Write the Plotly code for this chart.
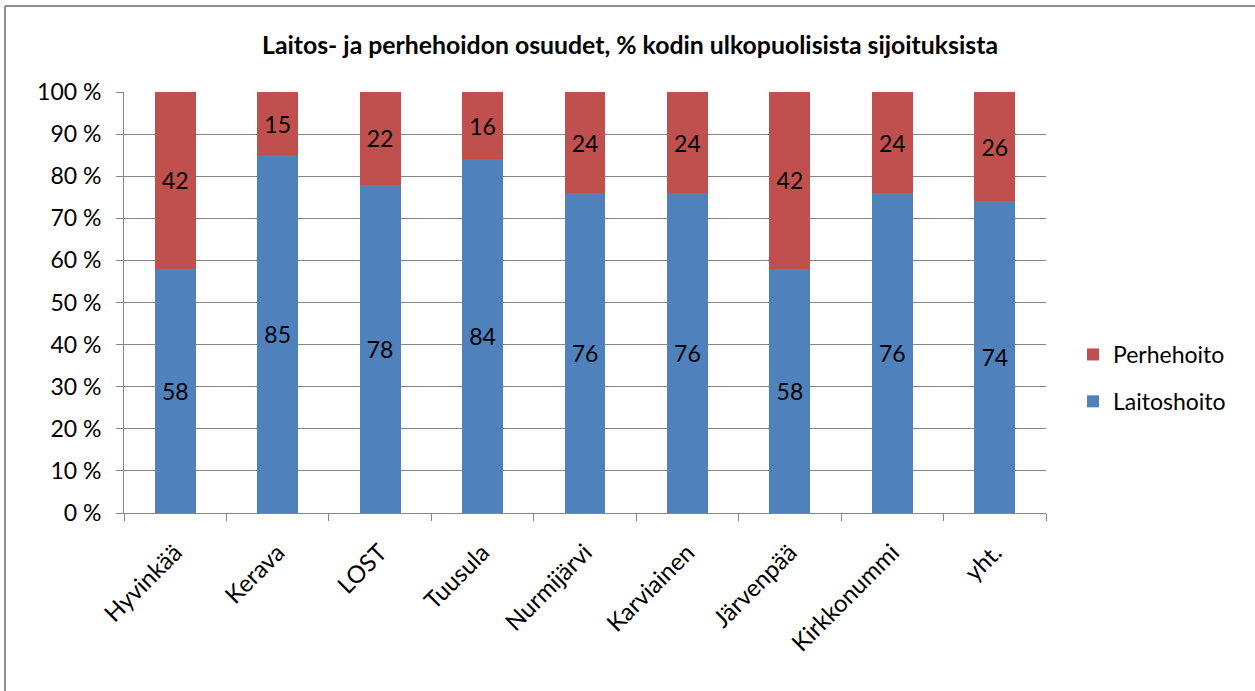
import plotly.graph_objects as go

categories = ["Hyvinkää", "Kerava", "LOST", "Tuusula", "Nurmijärvi", "Karviainen", "Järvenpää", "Kirkkonummi", "yht."]
laitoshoito = [58, 85, 78, 84, 76, 76, 58, 76, 74]
perhehoito = [42, 15, 22, 16, 24, 24, 42, 24, 26]
y_ticks = [0, 10, 20, 30, 40, 50, 60, 70, 80, 90, 100]
y_tick_labels = [f"{v} %" for v in y_ticks]

FONT = "Lato, 'Open Sans', sans-serif"
W, H = 1255, 691
L, R, T, B = 124, 1046, 92, 513
FS = 23

fig = go.Figure()
fig.add_trace(go.Bar(
    x=categories, y=laitoshoito, name="Laitoshoito",
    marker=dict(color="#4F81BD", line=dict(width=0)),
    text=laitoshoito, texttemplate="%{text}", textposition="inside",
    insidetextanchor="middle", textfont=dict(color="black", size=FS, family=FONT),
    legendgroup="a", legendrank=2,
))
fig.add_trace(go.Bar(
    x=categories, y=perhehoito, name="Perhehoito",
    marker=dict(color="#C0504D", line=dict(width=0)),
    text=perhehoito, texttemplate="%{text}", textposition="inside",
    insidetextanchor="middle", textfont=dict(color="black", size=FS, family=FONT),
    legendgroup="b", legendrank=1,
))

pw = R - L
ph = B - T
def px_x(p):
    return (p - L) / pw
def px_y(p):
    return (B - p) / ph

fig.update_layout(
    width=W, height=H,
    margin=dict(l=L, r=W - R, t=T, b=H - B, autoexpand=False),
    barmode="stack", bargap=0.6,
    paper_bgcolor="white", plot_bgcolor="white",
    font=dict(family=FONT, size=FS, color="black"),
    title=dict(text="<b>Laitos- ja perhehoidon osuudet, % kodin ulkopuolisista sijoituksista</b>",
               x=0.502, xanchor="center", y=1 - 45 / H, yanchor="middle",
               font=dict(size=24.8, family=FONT, color="black")),
    showlegend=True,
    legend=dict(x=px_x(1073), xanchor="left", y=px_y(378), yanchor="middle",
                traceorder="grouped", tracegroupgap=14,
                font=dict(size=FS, family=FONT), bgcolor="rgba(0,0,0,0)",
                itemwidth=30),
    xaxis=dict(showline=True, linecolor="#868686", linewidth=1,
               ticks="outside", ticklen=7, tickcolor="#868686", tickson="boundaries",
               tickangle=-45, tickfont=dict(size=24, family=FONT),
               ticklabelstandoff=15,
               showgrid=False, range=[-0.5, 8.5]),
    yaxis=dict(range=[0, 100], tickvals=y_ticks, ticktext=y_tick_labels,
               showline=True, linecolor="#868686", linewidth=1,
               ticks="outside", ticklen=7, tickcolor="#868686",
               ticklabelstandoff=10,
               showgrid=True, gridcolor="#868686", gridwidth=1,
               tickfont=dict(size=FS, family=FONT), zeroline=False),
    shapes=[
        dict(type="line", xref="paper", yref="paper", x0=px_x(5), x1=px_x(1300), y0=px_y(6), y1=px_y(6),
             line=dict(color="#8c8c8c", width=2)),
        dict(type="line", xref="paper", yref="paper", x0=px_x(5), x1=px_x(5), y0=px_y(6), y1=px_y(720),
             line=dict(color="#8c8c8c", width=2)),
    ],
)

fig.write_html("out.html", config={"displayModeBar": False},
               post_script="document.body.style.margin='0';document.body.style.overflow='hidden';")
